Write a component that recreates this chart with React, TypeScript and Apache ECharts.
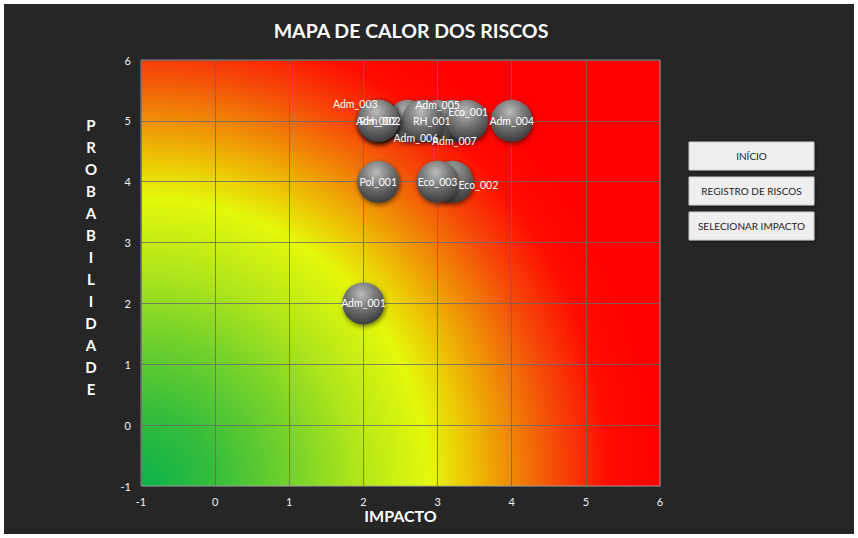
import React, { useEffect, useRef } from "react";
import * as echarts from "echarts";

const chartTitle = "MAPA DE CALOR DOS RISCOS";
const xAxisTitle = "IMPACTO";
const yAxisTitle = "PROBABILIDADE";

const riskNames = ["Adm_001", "Pol_001", "Eco_002", "Eco_003", "Adm_006", "Adm_007", "Adm_005", "RH_001", "Adm_003", "Adm_002", "RH_002", "Eco_001", "Adm_004"];
const impactValues = [2, 2.2, 3.2, 3.0, 2.6, 3.2, 3.0, 2.8, 2.2, 2.2, 2.2, 3.4, 4];
const probabilityValues = [2, 4, 4, 4, 5, 5, 5, 5, 5, 5, 5, 5, 5];
// label placement (style only)
const labelOffsets = [[0, 0], [0, 0], [26, 3], [0, 0], [8, 17], [2, 20], [0, -16], [9, 0], [-23, -17], [0, 0], [0, 0], [1, -9], [0, 0]];

const axisMin = -1;
const axisMax = 6;

const buttonLabels = ["INÍCIO", "REGISTRO DE RISCOS", "SELECIONAR IMPACTO"];

const FONT = "Lato, 'Open Sans', sans-serif";

export default function App() {
  const ref = useRef<HTMLDivElement>(null);

  useEffect(() => {
    if (!ref.current) return;
    const chart = echarts.init(ref.current, null, { renderer: "svg" });

    const gridLeft = 137;
    const gridTop = 56;
    const gridW = 519;
    const gridH = 426;

    const heatGradient = new echarts.graphic.RadialGradient(gridLeft, gridTop + gridH, 520, [
      { offset: 0, color: "#0ab14b" },
      { offset: 0.14, color: "#35bd3c" },
      { offset: 0.28, color: "#6fd02c" },
      { offset: 0.42, color: "#b2e61a" },
      { offset: 0.555, color: "#e4f80a" },
      { offset: 0.63, color: "#edc404" },
      { offset: 0.71, color: "#f08a06" },
      { offset: 0.8, color: "#f54a08" },
      { offset: 0.9, color: "#ff0c00" },
      { offset: 1, color: "#ff0000" },
    ], true);

    const sphere = new echarts.graphic.RadialGradient(0.45, 0.28, 0.78, [
      { offset: 0, color: "#bcbcbc" },
      { offset: 0.4, color: "#7c7c7c" },
      { offset: 0.75, color: "#505050" },
      { offset: 1, color: "#333333" },
    ]);

    const data = riskNames.map((n, i) => ({
      value: [impactValues[i], probabilityValues[i]],
      name: n,
      label: { offset: labelOffsets[i] },
    }));

    const letters = yAxisTitle.split("").join("\n");

    const buttonTops = [138, 173, 208];
    const buttons = buttonLabels.map((t, i) => ({
      type: "group",
      x: 685,
      y: buttonTops[i],
      children: [
        {
          type: "rect",
          shape: { x: 0, y: 0, width: 125, height: 28 },
          style: { fill: "#efefef", stroke: "#c9c9c9", lineWidth: 1, shadowBlur: 2, shadowColor: "rgba(0,0,0,0.5)", shadowOffsetX: 1, shadowOffsetY: 1 },
        },
        {
          type: "text",
          x: 62.5,
          y: 14,
          style: { text: t, fill: "#1e1e1e", font: `10px ${FONT}`, textAlign: "center", textVerticalAlign: "middle" },
        },
      ],
    }));

    chart.setOption({
      animation: false,
      backgroundColor: "#262626",
      grid: {
        left: gridLeft,
        top: gridTop,
        width: gridW,
        height: gridH,
        show: true,
        backgroundColor: heatGradient,
        borderColor: "rgba(170,170,170,0.8)",
        borderWidth: 1,
      },
      xAxis: {
        type: "value",
        min: axisMin,
        max: axisMax,
        interval: 1,
        name: xAxisTitle,
        nameLocation: "middle",
        nameGap: 29,
        nameMoveOverlap: false,
        nameTextStyle: { color: "#ffffff", fontFamily: FONT, fontWeight: "bold", fontSize: 16, verticalAlign: "middle" },
        axisLine: { show: false },
        axisTick: { show: false },
        axisLabel: { color: "#f0f0f0", fontFamily: FONT, fontSize: 11, margin: 10 },
        splitLine: { show: true, lineStyle: { color: "rgba(105,105,105,0.8)", width: 1 } },
      },
      yAxis: {
        type: "value",
        min: axisMin,
        max: axisMax,
        interval: 1,
        axisLine: { show: false },
        axisTick: { show: false },
        axisLabel: { color: "#f0f0f0", fontFamily: FONT, fontSize: 11, margin: 10 },
        splitLine: { show: true, lineStyle: { color: "rgba(105,105,105,0.8)", width: 1 } },
      },
      graphic: [
        {
          type: "text",
          x: 407,
          y: 26,
          style: { text: chartTitle, fill: "#ffffff", font: `bold 19.5px ${FONT}`, textAlign: "center", textVerticalAlign: "middle" },
        },
        {
          type: "text",
          x: 87,
          y: 110,
          style: { text: letters, fill: "#ffffff", font: `bold 15px ${FONT}`, textAlign: "center", lineHeight: 22 },
        },
        ...buttons,
      ],
      series: [
        {
          type: "scatter",
          symbol: "circle",
          symbolSize: 42,
          data,
          itemStyle: {
            color: sphere,
            opacity: 1,
            shadowBlur: 5,
            shadowColor: "rgba(0,0,0,0.55)",
            shadowOffsetX: 1,
            shadowOffsetY: 2,
          },
          label: {
            show: true,
            position: "inside",
            formatter: (p: any) => p.name,
            color: "#ffffff",
            fontFamily: FONT,
            fontSize: 10.5,
          },
          emphasis: { disabled: true },
        },
      ],
    } as any);

    return () => chart.dispose();
  }, []);

  return (
    <div style={{ position: "fixed", left: 0, top: 0, width: 858, height: 538, background: "#ffffff" }}>
      <div ref={ref} style={{ position: "absolute", left: 4, top: 4, width: 850, height: 530 }} />
    </div>
  );
}
